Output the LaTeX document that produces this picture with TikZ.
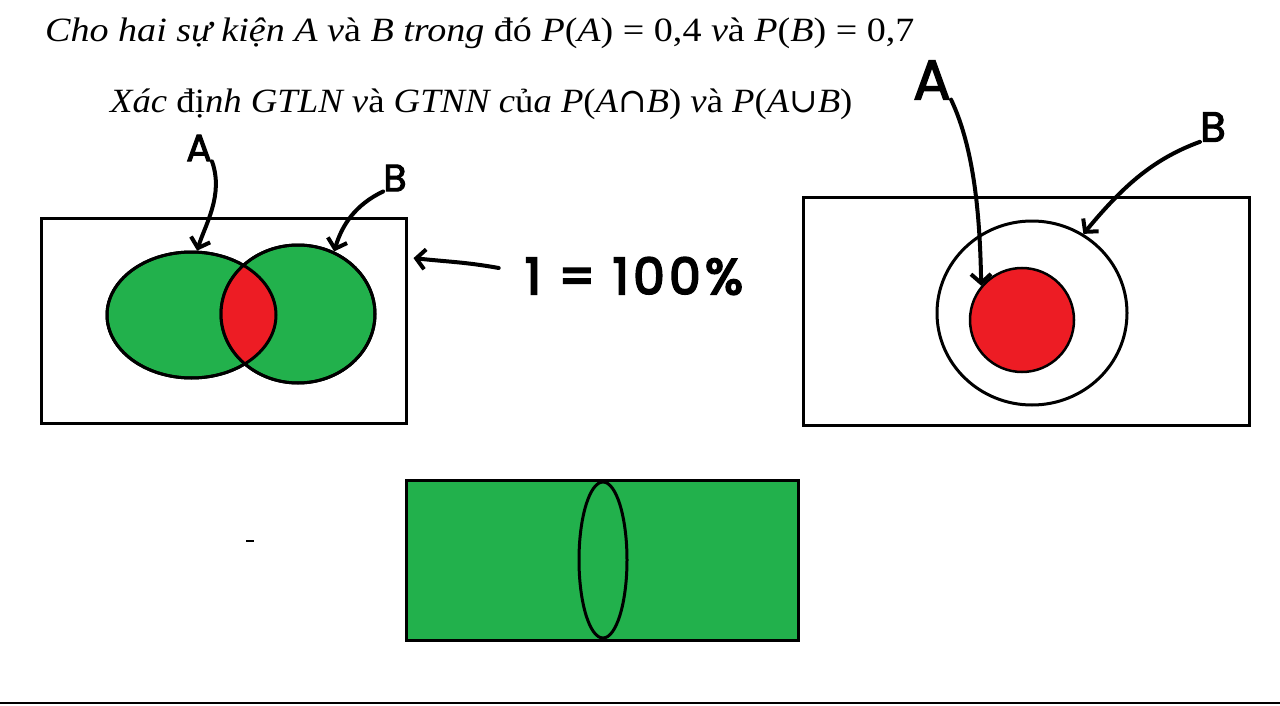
\documentclass[tikz,border=0pt]{standalone}
\usepackage{fontspec}
\setmainfont{Liberation Serif}
\newfontfamily\titlefont[FakeStretch=1.12]{Liberation Serif}
\newfontfamily\titlefontb[FakeStretch=1.08]{Liberation Serif}
\newfontfamily\symbfont{DejaVu Serif}
\newfontfamily\handfont[LetterSpace=6, FakeBold=2.5]{Poppins}
\newfontfamily\pctfont[LetterSpace=9, FakeBold=4]{Poppins}
\usetikzlibrary{positioning,arrows.meta,shapes.geometric,calc}
\definecolor{paintgreen}{RGB}{34,177,76}
\definecolor{paintred}{RGB}{237,28,36}
\newcommand{\up}[1]{{\upshape #1}}
\newcommand{\setop}[1]{{\symbfont\upshape #1}}

\begin{document}
\begin{tikzpicture}[
  x=1pt, y=-1pt,
  title/.style={font=\titlefont\fontsize{34}{40}\selectfont\itshape, anchor=base west, inner sep=0pt},
  box/.style={draw, line width=3pt, inner sep=0pt},
  setshape/.style={ellipse, draw, line width=3pt, inner sep=0pt},
  hand/.style={font=\handfont\fontsize{#1}{#1}\selectfont, inner sep=0pt},
  pen/.style={line width=4pt, line cap=round, line join=round, -{Straight Barb[length=9pt,width=20pt]}},
]
\useasboundingbox (0,0) rectangle (1280,706);
\fill[white] (0,0) rectangle (1280,706);

% question
\node[title] (line1) at (45,42) {Cho hai sự kiện A v\up{à} B trong \up{đó} P\up{(}A\up{) = 0,4} v\up{à} P\up{(}B\up{) = 0,7}};
\node[title, font=\titlefontb\fontsize{34}{40}\selectfont\itshape] (line2) at (110,113) {Xác \up{đị}nh GTLN v\up{à} GTNN c\up{ủ}a P\up{(}A\setop{∩}B\up{)} v\up{à} P\up{(}A\setop{∪}B\up{)}};

% left: two overlapping sets
\node[box, minimum width=365pt, minimum height=205pt] (univL) at (223.5,320.5) {};
\node[setshape, fill=paintgreen, minimum width=169pt, minimum height=126pt] (setA) at (191.5,315) {};
\node[setshape, fill=paintgreen, minimum width=154pt, minimum height=138pt] (setB) at (298,314) {};
\begin{scope}
  \clip (setA.center) ellipse (84.5 and 63);
  \fill[paintred] (setB.center) ellipse (77 and 69);
\end{scope}
\draw[line width=3pt] (setA.center) ellipse (84.5 and 63);
\draw[line width=3pt] (setB.center) ellipse (77 and 69);

\node[hand=38] (labA) at (199,148) {A};
\node[hand=38] (labB) at (395,178) {B};
\node[inner sep=0pt, font=\pctfont\fontsize{50}{50}\selectfont] (pct) at (634,276) {1 = 100\%};
\coordinate[left=26pt of pct.west, yshift=8pt] (pctTail);

\draw[pen] (labA.south east) .. controls (224,195) and (205,225) .. (setA.85);
\draw[pen] (labB.south west) .. controls (355,205) and (342,225) .. (setB.60);
\draw[pen] (pctTail) .. controls (465,262) and (450,262) .. ([xshift=6pt]$(univL.north east)!0.2!(univL.south east)$);

% right: A inside B
\node[box, minimum width=446pt, minimum height=228pt] (univR) at (1026,311) {};
\node[setshape, minimum width=190pt, minimum height=184pt] (setBR) at (1032,313) {};
\node[setshape, fill=paintred, line width=2.5pt, minimum width=104pt, minimum height=104pt] (setAR) at (1022,320) {};

\node[hand=56] (labAR) at (932,80) {A};
\node[hand=42] (labBR) at (1213,127) {B};

\draw[pen] (labAR.south east) .. controls (975,150) and (980,220) .. (setAR.140);
\draw[pen] (labBR.south west) .. controls (1150,160) and (1120,190) .. (setBR.57);

% bottom strip
\node[box, fill=paintgreen, minimum width=392pt, minimum height=160pt] (strip) at (602,560) {};
\node[setshape, minimum width=48pt, minimum height=156pt] (slice) at (603,560) {};

\draw[line width=2pt] (246,541) -- (254,541);
\draw[line width=2pt] (0,703) -- (1280,703);
\end{tikzpicture}
\end{document}
